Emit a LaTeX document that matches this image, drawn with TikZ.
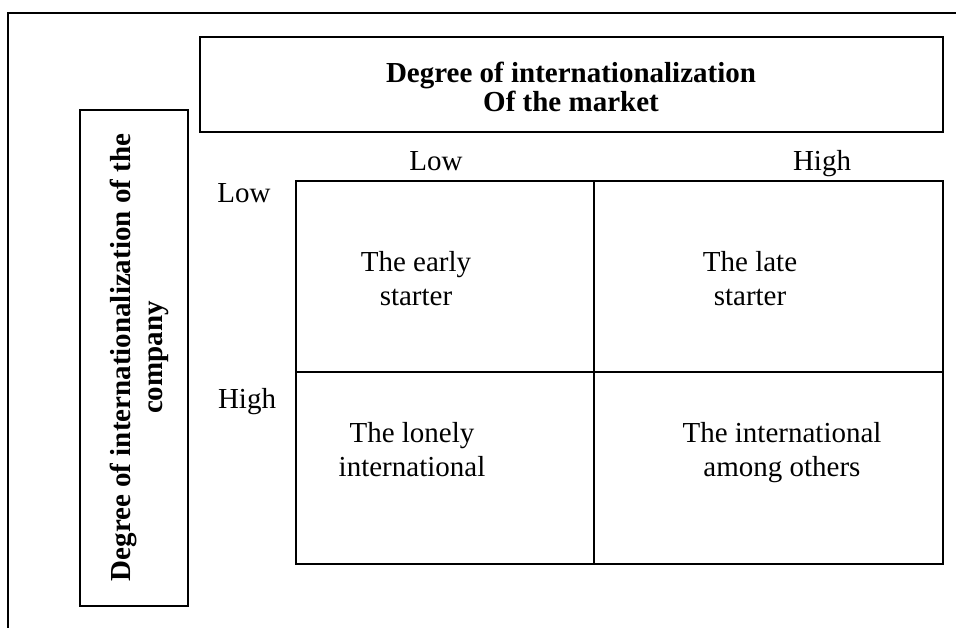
\documentclass[tikz,border=0pt]{standalone}
\usepackage{fontspec}
\setmainfont{Liberation Serif}
\usetikzlibrary{positioning}

\begin{document}
\begin{tikzpicture}[x=0.5pt,y=-0.5pt,line width=1pt,
  font=\fontsize{14.5}{17}\selectfont,
  cell/.style={align=center,inner sep=0pt},
  axislabel/.style={anchor=base,inner sep=0pt},
  heading/.style={align=center,inner sep=0pt,font=\fontsize{14.5}{14.4}\selectfont\bfseries}]
\useasboundingbox (0,0) rectangle (956,628);

% outer frame (only top and left side visible)
\coordinate (f1) at (956,13);
\coordinate (f2) at (8,13);
\coordinate (f3) at (8,628);
\draw (f1) -- (f2) -- (f3);

% heading boxes
\draw (200,37) rectangle (943,132);
\node[heading] (market) at (571,87) {Degree of internationalization\\Of the market};

\draw (80,110) rectangle (188,606);
\node[heading,rotate=90,font=\fontsize{14.5}{16}\selectfont\bfseries] (company) at (139,357.5)
  {Degree of internationalization of the\\company};

% the matrix
\coordinate (m1) at (296,181);
\coordinate (m2) at (943,564);
\draw (m1) rectangle (m2);
\coordinate (v1) at (594,181);
\coordinate (v2) at (594,564);
\draw (v1) -- (v2);
\coordinate (h1) at (296,372);
\coordinate (h2) at (943,372);
\draw (h1) -- (h2);

% axis labels
\node[axislabel] (collow) at (436,170) {Low};
\node[axislabel] (colhigh) at (822,170) {High};
\node[axislabel] (rowlow) at (244,202) {Low};
\node[axislabel] (rowhigh) at (247,408) {High};

% cell texts
\node[cell] (early) at (416,278.5) {The early\\starter};
\node[cell] (late) at (750,278.5) {The late\\starter};
\node[cell] (lonely) at (412,450) {The lonely\\international};
\node[cell] (among) at (782,453) {The international\\among others};

\end{tikzpicture}
\end{document}
